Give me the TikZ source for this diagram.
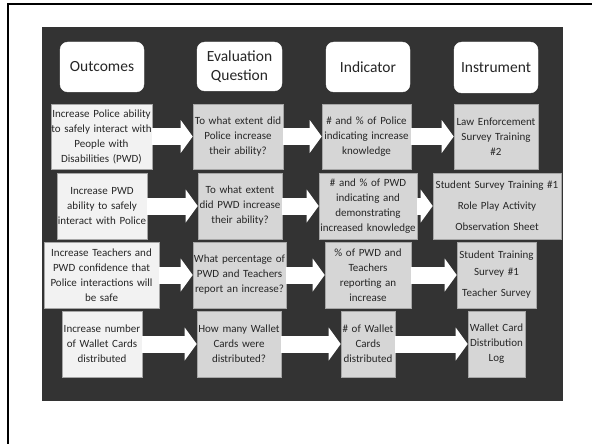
\documentclass[tikz,border=0pt]{standalone}
\usepackage{fontspec}
\setmainfont{Carlito}
\usetikzlibrary{arrows.meta}

\definecolor{slate}{HTML}{333333}
\definecolor{pale}{HTML}{F2F2F2}
\definecolor{mid}{HTML}{D6D6D6}
\definecolor{ink}{HTML}{262626}

\tikzset{
  hdr/.style={draw=white,fill=white,rounded corners=8pt,inner sep=0pt,align=center,text=ink,font=\fontsize{15.5}{18.5}\selectfont},
  cell/.style={draw=gray!70,line width=0.6pt,inner xsep=0pt,inner ysep=0pt,align=center,text=ink,font=\fontsize{11}{15}\selectfont},
  outc/.style={cell,fill=pale},
  meas/.style={cell,fill=mid},
  blk/.style={draw=white,line width=17pt,-{Triangle[length=12pt,width=33pt,line width=0pt]}}
}

\begin{document}
\begin{tikzpicture}[x=1pt,y=-1pt]
            \useasboundingbox (0,0) rectangle (592,444);
            \draw[line width=2pt] (7.5,444) -- (7.5,4.3) -- (592,4.3);
            \fill[slate] (42,27) rectangle (563,401);
            % column heads
            \node[hdr,minimum width=84pt,minimum height=50pt] at (102,67) (hOut) {Outcomes};
            \node[hdr,minimum width=85pt,minimum height=49pt] at (239.5,66.5) (hQue) {Evaluation\\Question};
            \node[hdr,minimum width=84pt,minimum height=50pt] at (368,67) (hInd) {Indicator};
            \node[hdr,minimum width=84pt,minimum height=51pt] at (496,67.5) (hIns) {Instrument};
            % police
            \node[outc,text width=101pt,minimum height=65pt] at (101.5,136.5) (o1) {Increase Police ability\\to safely interact with\\People with\\Disabilities (PWD)};
            \node[meas,text width=90pt,minimum height=65pt] at (238,136.5) (q1) {To what extent did\\Police increase\\their ability?};
            \node[meas,text width=89pt,minimum height=65pt] at (366.5,136.5) (i1) {\# and \% of Police\\indicating increase\\knowledge};
            \node[meas,text width=84pt,minimum height=65pt] at (496,136.5) (n1) {Law Enforcement\\Survey Training\\\#2};
            % pwd
            \node[outc,text width=90pt,minimum height=66pt] at (102,206) (o2) {Increase PWD\\ability to safely\\interact with Police};
            \node[meas,text width=84pt,minimum height=66pt] at (240,206) (q2) {To what extent\\did PWD increase\\their ability?};
            \node[meas,text width=98pt,minimum height=66pt] at (368,206) (i2) {\# and \% of PWD\\indicating and\\demonstrating\\increased knowledge};
            \node[meas,text width=128pt,minimum height=66pt] at (497,206) (n2) {Student Survey Training \#1\\[6pt]Role Play Activity\\[6pt]Observation Sheet};
            % teachers
            \node[outc,text width=115pt,minimum height=66pt] at (101.5,275) (o3) {Increase Teachers and\\PWD confidence that\\Police interactions will\\be safe};
            \node[meas,text width=93pt,minimum height=66pt] at (239.5,275) (q3) {What percentage of\\PWD and Teachers\\report an increase?};
            \node[meas,text width=86pt,minimum height=66pt] at (368,275) (i3) {\% of PWD and\\Teachers\\reporting an\\increase};
            \node[meas,text width=79pt,minimum height=66pt] at (496.5,275) (n3) {Student Training\\[2pt]Survey \#1\\[6pt]Teacher Survey};
            % wallet cards
            \node[outc,text width=80pt,minimum height=66pt] at (102,344) (o4) {Increase number\\of Wallet Cards\\distributed};
            \node[meas,text width=84pt,minimum height=66pt] at (239,344) (q4) {How many Wallet\\Cards were\\distributed?};
            \node[meas,text width=54pt,minimum height=66pt] at (368,344) (i4) {\# of Wallet\\Cards\\distributed};
            \node[meas,text width=57pt,minimum height=66pt] at (496.5,344) (n4) {Wallet Card\\Distribution\\Log};
            % arrows
            \draw[blk] (o1.east) -- (q1.west);
            \draw[blk] (q1.east) -- (i1.west);
            \draw[blk] (i1.east) -- (n1.west);
            \draw[blk] (o2.east) -- (q2.west);
            \draw[blk] (q2.east) -- (i2.west);
            \draw[blk] (i2.east) -- (n2.west);
            \draw[blk] (o3.east) -- (q3.west);
            \draw[blk] (q3.east) -- (i3.west);
            \draw[blk] (i3.east) -- (n3.west);
            \draw[blk] (o4.east) -- (q4.west);
            \draw[blk] (q4.east) -- (i4.west);
            \draw[blk] (i4.east) -- (n4.west);
\end{tikzpicture}
\end{document}
